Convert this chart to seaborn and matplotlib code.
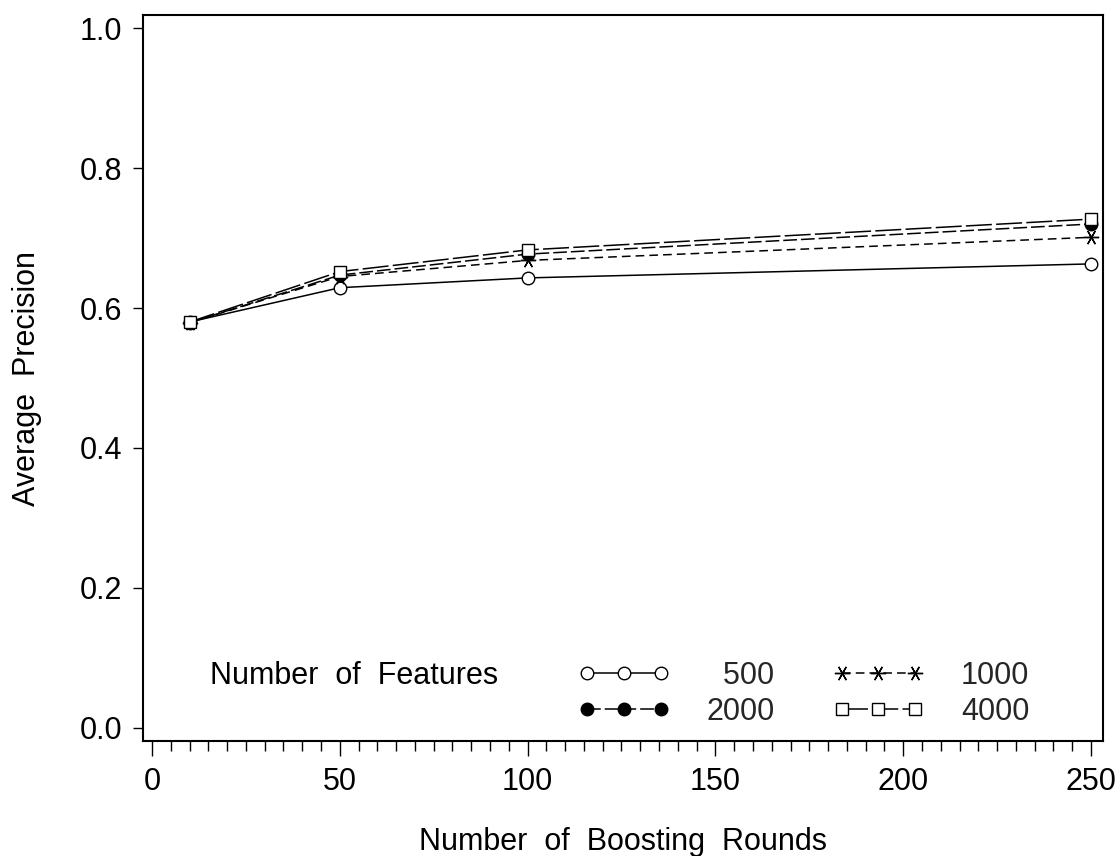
import matplotlib
matplotlib.use("Agg")
import matplotlib.pyplot as plt
import seaborn as sns
import pandas as pd
import numpy as np
from matplotlib.ticker import MultipleLocator

rounds = [10, 50, 100, 250]
feat_500 = [0.580, 0.629, 0.643, 0.663]
feat_1000 = [0.579, 0.645, 0.668, 0.701]
feat_2000 = [0.579, 0.647, 0.677, 0.720]
feat_4000 = [0.580, 0.652, 0.683, 0.727]
series_names = ["500", "1000", "2000", "4000"]
legend_labels = ["  500", "1000", "2000", "4000"]

sns.set_theme(style="ticks")
plt.rcParams['font.family'] = ['Liberation Sans', 'DejaVu Sans']

FS = 22

fig = plt.figure(figsize=(11.2, 8.56), dpi=100)
ax = fig.add_axes([143/1120, 1-741/856, (1103-143)/1120, (741-15)/856])

styles = {
    "500": dict(marker='o', linestyle='-', mfc='white', ms=9),
    "1000": dict(marker=(6, 2, 90), linestyle=(0, (5.7, 3.3)), mfc='black', ms=11),
    "2000": dict(marker='o', linestyle=(0, (9, 2.6)), mfc='black', ms=9),
    "4000": dict(marker='s', linestyle=(0, (17, 2.8)), mfc='white', ms=9),
}
values = [feat_500, feat_1000, feat_2000, feat_4000]
handles = []
for name, vals in zip(series_names, values):
    df = pd.DataFrame({"x": rounds, "y": vals})
    st = styles[name]
    sns.lineplot(data=df, x="x", y="y", ax=ax, color='black', linewidth=1.1,
                 marker=st['marker'], linestyle=st['linestyle'],
                 markerfacecolor=st['mfc'], markeredgecolor='black',
                 markeredgewidth=1.0, markersize=st['ms'], errorbar=None)
    handles.append(ax.lines[-1])

ax.set_xlim(-2.4, 253.2)
ax.set_ylim(-0.0186, 1.0186)
ax.xaxis.set_major_locator(MultipleLocator(50))
ax.xaxis.set_minor_locator(MultipleLocator(5))
ax.yaxis.set_major_locator(MultipleLocator(0.2))
ax.yaxis.set_major_formatter(matplotlib.ticker.FormatStrFormatter('%.1f'))
ax.tick_params(axis='both', which='major', labelsize=FS, width=1.0,
               color='black', labelcolor='black')
ax.tick_params(axis='y', which='major', length=7, pad=8)
ax.tick_params(axis='x', which='major', length=11, pad=8)
ax.tick_params(axis='x', which='minor', length=7, width=1.0, color='black')
for s in ax.spines.values():
    s.set_visible(True)
    s.set_color('black')
    s.set_linewidth(1.5)

ax.set_xlabel("Number  of  Boosting  Rounds", fontsize=FS, labelpad=21, color='black')
ax.set_ylabel("Average  Precision", fontsize=FS, labelpad=27, color='black')

fig.text(210/1120, 1-676/856, "Number  of  Features", fontsize=FS, va='center', ha='left', color='black')

order = [0, 2, 1, 3]
leg = fig.legend([handles[i] for i in order], [legend_labels[i] for i in order],
                 ncol=2, frameon=False, fontsize=FS, numpoints=3,
                 handlelength=3.0, handletextpad=1.2, columnspacing=1.9,
                 labelspacing=0.2, borderpad=0, borderaxespad=0,
                 loc='center left', bbox_to_anchor=(578/1120, 1-694/856))

fig.savefig("out.png", dpi=100)
